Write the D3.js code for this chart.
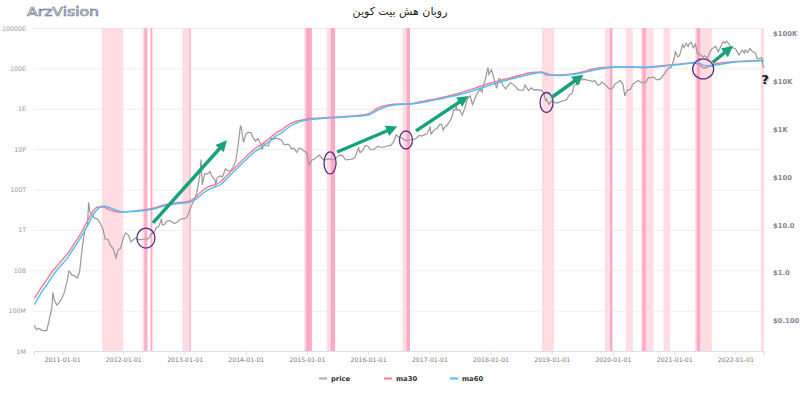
<!DOCTYPE html>
<html>
<head>
<meta charset="utf-8">
<script src="https://cdn.jsdelivr.net/npm/d3@7/dist/d3.min.js"></script>
<style>
  body { margin: 0; background: #fff; }
  svg { display: block; font-family: "DejaVu Sans", "Noto Sans", sans-serif; }
</style>
</head>
<body>
<svg id="chart" width="800" height="394"></svg>
<script>
const chart_width = 800, chart_height = 394;
const plot = { left: 34, right: 764, top: 28, bottom: 351 };

// hash rate ticks (left) and price ticks (right)
const hash_ticks = [1e6, 1e8, 1e10, 1e12, 1e14, 1e16, 1e18, 1e20, 1e22];
const hash_tick_labels = ["1M", "100M", "10B", "1T", "100T", "10P", "1E", "100E", "10000E"];
const price_ticks = [0.1, 1, 10, 100, 1000, 10000, 100000];
const price_tick_labels = ["$0.100", "$1.0", "$10.0", "$100", "$1K", "$10K", "$100K"];
const year_ticks = ["2011-01-01", "2012-01-01", "2013-01-01", "2014-01-01", "2015-01-01", "2016-01-01",
    "2017-01-01", "2018-01-01", "2019-01-01", "2020-01-01", "2021-01-01", "2022-01-01"];

// hash rate moving averages (H/s)
const hash_dates = ["2010-07-20", "2010-08-01", "2010-09-01", "2010-10-01", "2010-11-01", "2010-12-01",
    "2011-01-01", "2011-02-01", "2011-03-01", "2011-04-01", "2011-05-01", "2011-06-01", "2011-07-01",
    "2011-08-01", "2011-09-01", "2011-10-01", "2011-11-01", "2011-12-01", "2012-01-01", "2012-03-01",
    "2012-05-01", "2012-07-01", "2012-09-01", "2012-11-01", "2013-01-01", "2013-02-01", "2013-03-01",
    "2013-04-01", "2013-05-01", "2013-06-01", "2013-07-01", "2013-08-01", "2013-09-01", "2013-10-01",
    "2013-11-01", "2013-12-01", "2014-01-01", "2014-02-01", "2014-03-01", "2014-04-01", "2014-05-01",
    "2014-06-01", "2014-07-01", "2014-08-01", "2014-09-01", "2014-10-01", "2014-11-01", "2014-12-01",
    "2015-01-01", "2015-04-01", "2015-07-01", "2015-10-01", "2016-01-01", "2016-03-01", "2016-05-01",
    "2016-07-01", "2016-09-01", "2016-11-01", "2017-01-01", "2017-04-01", "2017-07-01", "2017-10-01",
    "2018-01-01", "2018-04-01", "2018-07-01", "2018-09-01", "2018-11-01", "2018-12-01", "2019-01-01",
    "2019-03-01", "2019-05-01", "2019-07-01", "2019-09-01", "2019-11-01", "2020-01-01", "2020-03-01",
    "2020-05-01", "2020-07-01", "2020-09-01", "2020-11-01", "2021-01-01", "2021-03-01", "2021-05-01",
    "2021-06-01", "2021-07-01", "2021-08-01", "2021-09-01", "2021-11-01", "2022-01-01", "2022-03-01",
    "2022-05-01", "2022-06-20"];
const ma30 = [4.0e8, 5.9e8, 1.5e9, 3.3e9, 8.2e9, 1.6e10,
    3.2e10, 6.4e10, 1.4e11, 3.5e11, 8.8e11, 2.75e12, 7.7e12,
    1.36e13, 1.36e13, 1.08e13, 8.6e12, 7.7e12, 7.7e12, 8.6e12,
    9.6e12, 1.21e13, 1.7e13, 2.14e13, 2.4e13, 2.7e13, 3.8e13,
    6.7e13, 1.06e14, 1.49e14, 1.67e14, 2.35e14, 4.15e14, 7.3e14,
    1.3e15, 2.3e15, 4.1e15, 7.2e15, 1.13e16, 1.6e16, 2.5e16,
    4.0e16, 6.3e16, 8.8e16, 1.39e17, 1.96e17, 2.47e17, 2.76e17,
    3.1e17, 3.47e17, 3.89e17, 4.36e17, 5.5e17, 1.09e18, 1.53e18,
    1.71e18, 1.71e18, 2.15e18, 2.7e18, 3.8e18, 6.0e18, 1.06e19,
    1.88e19, 2.96e19, 4.68e19, 6.2e19, 6.6e19, 4.7e19, 4.7e19,
    4.7e19, 5.25e19, 6.6e19, 9.3e19, 1.10e20, 1.16e20, 1.16e20,
    1.16e20, 1.10e20, 1.23e20, 1.38e20, 1.55e20, 1.74e20, 1.95e20,
    1.46e20, 1.04e20, 1.31e20, 1.64e20, 1.95e20, 2.18e20, 2.31e20,
    2.44e20, 2.44e20];
const ma60 = [2.0e8, 3.0e8, 8.4e8, 1.86e9, 4.6e9, 1.03e10,
    2.0e10, 4.0e10, 9.0e10, 2.2e11, 5.6e11, 1.55e12, 4.9e12,
    1.08e13, 1.52e13, 1.36e13, 1.08e13, 8.6e12, 7.7e12, 8.2e12,
    9.1e12, 1.08e13, 1.52e13, 1.9e13, 2.14e13, 2.4e13, 3.0e13,
    4.75e13, 7.5e13, 1.06e14, 1.33e14, 1.67e14, 2.94e14, 5.2e14,
    9.2e14, 1.63e15, 2.9e15, 5.1e15, 8.1e15, 1.13e16, 1.79e16,
    2.8e16, 4.5e16, 6.3e16, 9.9e16, 1.48e17, 1.96e17, 2.47e17,
    2.76e17, 3.28e17, 3.67e17, 4.12e17, 4.89e17, 8.6e17, 1.36e18,
    1.62e18, 1.71e18, 1.92e18, 2.41e18, 3.4e18, 5.06e18, 8.45e18,
    1.5e19, 2.5e19, 3.94e19, 5.25e19, 6.2e19, 5.56e19, 4.68e19,
    4.42e19, 4.95e19, 5.9e19, 7.8e19, 9.8e19, 1.13e20, 1.16e20,
    1.16e20, 1.13e20, 1.16e20, 1.31e20, 1.46e20, 1.64e20, 1.84e20,
    1.74e20, 1.38e20, 1.31e20, 1.46e20, 1.74e20, 2.06e20, 2.18e20,
    2.31e20, 2.44e20];

// bitcoin price (USD)
const price_dates = ["2010-07-18", "2010-08-01", "2010-08-15", "2010-09-01", "2010-09-15", "2010-10-01",
    "2010-10-15", "2010-11-01", "2010-11-07", "2010-11-15", "2010-12-01", "2010-12-15", "2011-01-01",
    "2011-01-15", "2011-02-01", "2011-02-10", "2011-02-15", "2011-03-01", "2011-03-15", "2011-04-01",
    "2011-04-15", "2011-05-01", "2011-05-15", "2011-06-01", "2011-06-08", "2011-06-15", "2011-07-01",
    "2011-07-15", "2011-08-01", "2011-08-15", "2011-09-01", "2011-09-15", "2011-10-01", "2011-10-15",
    "2011-11-01", "2011-11-18", "2011-12-01", "2011-12-15", "2012-01-01", "2012-01-15", "2012-02-01",
    "2012-02-15", "2012-03-01", "2012-03-15", "2012-04-01", "2012-04-15", "2012-05-01", "2012-05-15",
    "2012-06-01", "2012-06-15", "2012-07-01", "2012-07-15", "2012-08-01", "2012-08-16", "2012-08-20",
    "2012-09-01", "2012-09-15", "2012-10-01", "2012-10-15", "2012-11-01", "2012-11-15", "2012-12-01",
    "2012-12-15", "2013-01-01", "2013-01-15", "2013-02-01", "2013-02-15", "2013-03-01", "2013-03-15",
    "2013-04-01", "2013-04-09", "2013-04-16", "2013-05-01", "2013-05-15", "2013-06-01", "2013-06-15",
    "2013-07-01", "2013-07-05", "2013-07-15", "2013-08-01", "2013-08-15", "2013-09-01", "2013-09-15",
    "2013-10-01", "2013-10-15", "2013-11-01", "2013-11-15", "2013-11-30", "2013-12-05", "2013-12-18",
    "2014-01-01", "2014-01-15", "2014-02-01", "2014-02-15", "2014-03-01", "2014-03-15", "2014-04-01",
    "2014-04-10", "2014-04-15", "2014-05-01", "2014-05-15", "2014-06-01", "2014-06-15", "2014-07-01",
    "2014-07-15", "2014-08-01", "2014-08-18", "2014-09-01", "2014-09-15", "2014-10-01", "2014-10-15",
    "2014-11-01", "2014-11-15", "2014-12-01", "2014-12-15", "2015-01-01", "2015-01-14", "2015-02-01",
    "2015-02-15", "2015-03-01", "2015-03-15", "2015-04-01", "2015-04-15", "2015-05-01", "2015-05-15",
    "2015-06-01", "2015-06-15", "2015-07-01", "2015-07-15", "2015-08-01", "2015-08-19", "2015-09-01",
    "2015-09-15", "2015-10-01", "2015-10-15", "2015-11-04", "2015-11-15", "2015-12-01", "2015-12-15",
    "2016-01-01", "2016-01-15", "2016-02-01", "2016-02-15", "2016-03-01", "2016-03-15", "2016-04-01",
    "2016-04-15", "2016-05-01", "2016-05-15", "2016-06-01", "2016-06-17", "2016-07-01", "2016-07-15",
    "2016-08-01", "2016-08-15", "2016-09-01", "2016-09-15", "2016-10-01", "2016-10-15", "2016-11-01",
    "2016-11-15", "2016-12-01", "2016-12-15", "2017-01-01", "2017-01-05", "2017-01-11", "2017-02-01",
    "2017-02-15", "2017-03-01", "2017-03-15", "2017-03-24", "2017-04-01", "2017-04-15", "2017-05-01",
    "2017-05-15", "2017-05-25", "2017-06-01", "2017-06-12", "2017-06-15", "2017-07-01", "2017-07-16",
    "2017-08-01", "2017-08-15", "2017-09-01", "2017-09-15", "2017-10-01", "2017-10-15", "2017-11-01",
    "2017-11-12", "2017-11-15", "2017-12-01", "2017-12-17", "2017-12-22", "2018-01-06", "2018-01-15",
    "2018-02-06", "2018-02-20", "2018-03-01", "2018-03-15", "2018-04-01", "2018-04-15", "2018-05-01",
    "2018-05-15", "2018-06-01", "2018-06-15", "2018-07-01", "2018-07-15", "2018-07-25", "2018-08-01",
    "2018-08-15", "2018-09-01", "2018-09-15", "2018-10-01", "2018-10-15", "2018-11-01", "2018-11-15",
    "2018-11-25", "2018-12-01", "2018-12-15", "2019-01-01", "2019-01-15", "2019-02-01", "2019-02-15",
    "2019-03-01", "2019-03-15", "2019-04-01", "2019-04-15", "2019-05-01", "2019-05-15", "2019-06-01",
    "2019-06-15", "2019-06-26", "2019-07-01", "2019-07-15", "2019-08-01", "2019-08-15", "2019-09-01",
    "2019-09-15", "2019-10-01", "2019-10-15", "2019-10-26", "2019-11-01", "2019-11-15", "2019-12-01",
    "2019-12-17", "2020-01-01", "2020-01-15", "2020-02-01", "2020-02-13", "2020-03-01", "2020-03-12",
    "2020-03-15", "2020-04-01", "2020-04-15", "2020-05-01", "2020-05-15", "2020-06-01", "2020-06-15",
    "2020-07-01", "2020-07-15", "2020-08-01", "2020-08-15", "2020-09-01", "2020-09-15", "2020-10-01",
    "2020-10-15", "2020-11-01", "2020-11-15", "2020-12-01", "2020-12-15", "2021-01-01", "2021-01-08",
    "2021-01-22", "2021-02-01", "2021-02-15", "2021-02-21", "2021-03-01", "2021-03-13", "2021-03-25",
    "2021-04-01", "2021-04-14", "2021-04-25", "2021-05-08", "2021-05-19", "2021-06-01", "2021-06-22",
    "2021-07-01", "2021-07-20", "2021-08-01", "2021-08-15", "2021-09-06", "2021-09-21", "2021-10-01",
    "2021-10-20", "2021-11-01", "2021-11-09", "2021-11-25", "2021-12-04", "2021-12-15", "2022-01-01",
    "2022-01-22", "2022-02-01", "2022-02-10", "2022-02-24", "2022-03-01", "2022-03-15", "2022-03-29",
    "2022-04-15", "2022-05-01", "2022-05-12", "2022-05-20", "2022-06-01", "2022-06-10", "2022-06-13",
    "2022-06-18", "2022-06-20"];
const price = [0.08, 0.065, 0.07, 0.063, 0.062, 0.062,
    0.10, 0.19, 0.39, 0.27, 0.21, 0.24, 0.30,
    0.40, 0.70, 1.08, 1.05, 0.89, 0.87, 0.78,
    1.05, 3.3, 7.5, 9.6, 29.6, 19, 15.4,
    13.8, 13.1, 11, 8.2, 5.0, 5.0, 3.8,
    3.2, 2.05, 3.0, 3.2, 5.3, 6.8, 6.1,
    4.4, 4.9, 5.3, 4.9, 4.9, 5.0, 5.0,
    5.2, 6.5, 6.7, 8.7, 9.4, 13.5, 10,
    10.1, 11.7, 12.4, 11.7, 10.6, 11.2, 12.6,
    13.5, 13.4, 14.3, 20.4, 27, 34.5, 47,
    104, 230, 68, 116, 114, 129, 100,
    88, 68, 98, 105, 100, 146, 134,
    133, 155, 205, 420, 1150, 1100, 520,
    770, 860, 830, 640, 560, 630, 470,
    370, 520, 450, 445, 640, 610, 640,
    620, 590, 470, 475, 475, 380, 395,
    325, 400, 380, 347, 315, 178, 225,
    235, 260, 285, 245, 220, 235, 237,
    225, 235, 258, 285, 280, 225, 228,
    230, 237, 255, 400, 320, 360, 450,
    430, 375, 370, 400, 435, 415, 417,
    430, 450, 455, 535, 750, 675, 665,
    605, 570, 575, 608, 615, 640, 730,
    710, 750, 780, 1000, 1130, 780, 985,
    1010, 1220, 1250, 940, 1080, 1180, 1420,
    1750, 2500, 2450, 2950, 2450, 2500, 1930,
    2750, 4200, 4900, 3200, 4400, 5700, 6700,
    5900, 7300, 10900, 19300, 13800, 17100, 13600,
    7000, 11200, 10900, 8250, 6800, 8000, 9200,
    8500, 7500, 6500, 6400, 6350, 8200, 7600,
    6300, 7200, 6500, 6600, 6500, 6350, 5600,
    3900, 4200, 3250, 3850, 3600, 3450, 3600,
    3800, 3900, 4100, 5100, 5400, 8200, 8550,
    8800, 12900, 10600, 10800, 10400, 10300, 9750,
    10300, 8300, 8300, 9500, 9200, 8500, 7400,
    6650, 7200, 8800, 9400, 10300, 8600, 4900,
    5400, 6600, 6650, 8800, 9300, 10200, 9450,
    9100, 9200, 11800, 11800, 12000, 10800, 10600,
    11500, 13800, 16000, 18800, 19300, 29400, 40700,
    32000, 33500, 48700, 57500, 49600, 61200, 52300,
    59000, 63500, 49000, 58800, 37000, 36700, 31600,
    33500, 29800, 39900, 47000, 52600, 40600, 48200,
    65900, 61300, 67500, 58900, 49000, 48800, 47700,
    35100, 38700, 43500, 38300, 44300, 39300, 47400,
    40500, 38400, 29000, 29200, 29900, 30100, 22500,
    19000, 20600];

// capitulation periods (ma30 below ma60) and their deeper parts
const band_starts = ["2011-08-27", "2012-04-24", "2012-06-08", "2012-12-18", "2014-12-16", "2015-04-29",
    "2016-07-24", "2018-11-03", "2019-11-14", "2020-03-18", "2020-06-17", "2020-10-29", "2021-05-06", "2022-06-02"];
const band_ends = ["2012-01-01", "2012-05-27", "2012-06-28", "2013-02-06", "2015-01-30", "2015-06-18",
    "2016-09-07", "2019-01-15", "2019-12-29", "2020-04-29", "2020-08-30", "2020-12-08", "2021-08-14", "2022-06-21"];
const deep_starts = ["2012-05-06", "2012-06-14", "2013-01-30", "2014-12-26", "2015-05-23", "2016-08-18",
    "2019-12-15", "2020-06-25", "2021-05-16"];
const deep_ends = ["2012-05-21", "2012-06-20", "2013-02-06", "2015-01-30", "2015-06-18", "2016-09-07",
    "2019-12-29", "2020-07-15", "2021-06-05"];

// hand-drawn notes: buy signals (ellipses) and the rally after each (arrows)
const circle_dates = ["2012-05-15", "2015-05-19", "2016-08-14", "2018-12-01", "2021-06-23"];
const circle_prices = [5.3, 195, 588, 3560, 17800];
const circle_rx = [9, 6, 6.5, 6.5, 10.5];
const circle_ry = [10, 11, 9, 10, 10];
const arrow_from_dates = ["2012-06-26", "2015-06-30", "2016-10-13", "2018-12-31", "2021-08-18"];
const arrow_from_prices = [11, 330, 910, 4530, 24300];
const arrow_to_dates = ["2013-08-06", "2016-05-05", "2017-07-09", "2019-05-26", "2021-11-07"];
const arrow_to_prices = [420, 950, 3830, 10500, 41200];

const parse = d3.timeParse("%Y-%m-%d");

const svg = d3.select("#chart");

let x_scale = d3.scaleTime()
    .domain([parse("2010-07-17"), parse("2022-06-21")])
    .range([plot.left, plot.right]);
let y_hash = d3.scaleLog()
    .domain([1e6, 1e22])
    .range([plot.bottom, plot.top]);
let y_price = d3.scaleLog()
    .domain([0.02335, 127300])
    .range([plot.bottom, plot.top]);

// logo and title
svg.append("text")
    .attr("x", 27).attr("y", 15.5)
    .attr("font-size", 11.5)
    .attr("textLength", 72)
    .attr("lengthAdjust", "spacingAndGlyphs")
    .attr("fill", "#fff")
    .attr("stroke", "#6a7390")
    .attr("stroke-width", 0.6)
    .text("ArzVision");
svg.append("text")
    .attr("x", 400).attr("y", 15)
    .attr("text-anchor", "middle")
    .attr("font-size", 11)
    .attr("fill", "#222")
    .text("روبان هش بیت کوین");

// grid + left axis
let y_axis_left = d3.axisLeft(y_hash)
    .tickValues(hash_ticks)
    .tickFormat((d, i) => hash_tick_labels[i])
    .tickSize(-(plot.right - plot.left))
    .tickPadding(8);
svg.append("g")
    .attr("transform", `translate(${plot.left},0)`)
    .call(y_axis_left)
    .call(g => g.select(".domain").remove())
    .call(g => g.selectAll(".tick line").attr("stroke", "#eeeeee"))
    .call(g => g.selectAll(".tick text").attr("fill", "#999").attr("font-size", 6.3)
        .attr("font-family", "DejaVu Sans"));

// right axis
let y_axis_right = d3.axisRight(y_price)
    .tickValues(price_ticks)
    .tickFormat((d, i) => price_tick_labels[i])
    .tickSize(0)
    .tickPadding(9);
svg.append("g")
    .attr("transform", `translate(${plot.right},0)`)
    .call(y_axis_right)
    .call(g => g.select(".domain").remove())
    .call(g => g.selectAll(".tick text").attr("fill", "#858597").attr("font-size", 6.8)
        .attr("font-weight", "bold").attr("font-family", "DejaVu Sans"));

// bottom axis
let x_axis = d3.axisBottom(x_scale)
    .tickValues(year_ticks.map(parse))
    .tickFormat(d3.timeFormat("%Y-%m-%d"))
    .tickSize(4)
    .tickPadding(3);
let x_axis_group = svg.append("g")
    .attr("transform", `translate(0,${plot.bottom})`)
    .call(x_axis);
x_axis_group.select(".domain").attr("stroke", "#d9dfee").attr("stroke-width", 1.2);
x_axis_group.selectAll(".tick line").attr("stroke", "#d9dfee");
x_axis_group.selectAll(".tick text").attr("fill", "#777").attr("font-size", 6.2)
    .attr("font-family", "DejaVu Sans");

// capitulation bands
svg.append("g")
    .selectAll("rect")
    .data(band_starts.map((s, i) => [parse(s), parse(band_ends[i])]))
    .join("rect")
    .attr("x", d => x_scale(d[0]))
    .attr("width", d => Math.max(1, x_scale(d[1]) - x_scale(d[0])))
    .attr("y", plot.top)
    .attr("height", plot.bottom - plot.top)
    .attr("fill", "#ffdde3");
svg.append("g")
    .selectAll("rect")
    .data(deep_starts.map((s, i) => [parse(s), parse(deep_ends[i])]))
    .join("rect")
    .attr("x", d => x_scale(d[0]))
    .attr("width", d => Math.max(1, x_scale(d[1]) - x_scale(d[0])))
    .attr("y", plot.top)
    .attr("height", plot.bottom - plot.top)
    .attr("fill", "#ffa9c6");

// lines
let hash_rows = hash_dates.map((d, i) => ({ date: parse(d), ma30: ma30[i], ma60: ma60[i] }));
let price_rows = price_dates.map((d, i) => ({ date: parse(d), price: price[i] }));

svg.append("path")
    .datum(price_rows)
    .attr("fill", "none")
    .attr("stroke", "#999999")
    .attr("stroke-width", 1.2)
    .attr("d", d3.line().x(d => x_scale(d.date)).y(d => y_price(d.price)));

svg.append("path")
    .datum(hash_rows)
    .attr("fill", "none")
    .attr("stroke", "#ff7890")
    .attr("stroke-width", 1.4)
    .attr("d", d3.line().curve(d3.curveMonotoneX).x(d => x_scale(d.date)).y(d => y_hash(d.ma30)));

svg.append("path")
    .datum(hash_rows)
    .attr("fill", "none")
    .attr("stroke", "#4dbff5")
    .attr("stroke-width", 1.4)
    .attr("d", d3.line().curve(d3.curveMonotoneX).x(d => x_scale(d.date)).y(d => y_hash(d.ma60)));

// annotations
let notes = svg.append("g");
notes.selectAll("ellipse")
    .data(circle_dates)
    .join("ellipse")
    .attr("cx", d => x_scale(parse(d)))
    .attr("cy", (d, i) => y_price(circle_prices[i]))
    .attr("rx", (d, i) => circle_rx[i])
    .attr("ry", (d, i) => circle_ry[i])
    .attr("fill", "none")
    .attr("stroke", "#5a2b86")
    .attr("stroke-width", 1.3);

svg.append("defs").append("marker")
    .attr("id", "head")
    .attr("viewBox", "0 0 10 10")
    .attr("refX", 2).attr("refY", 5)
    .attr("markerWidth", 3.2).attr("markerHeight", 3.2)
    .attr("orient", "auto")
    .append("path")
    .attr("d", "M0,0 L10,5 L0,10 z")
    .attr("fill", "#17a27d");

notes.selectAll("line.arrow")
    .data(arrow_from_dates)
    .join("line")
    .attr("class", "arrow")
    .attr("x1", d => x_scale(parse(d)))
    .attr("y1", (d, i) => y_price(arrow_from_prices[i]))
    .attr("x2", (d, i) => x_scale(parse(arrow_to_dates[i])))
    .attr("y2", (d, i) => y_price(arrow_to_prices[i]))
    .attr("stroke", "#17a27d")
    .attr("stroke-width", 3.5)
    .attr("marker-end", "url(#head)");

// question mark at the latest point, with a soft shadow
const question_x = x_scale(parse("2022-06-21")) + 1;
const question_y = y_price(11000);
[["#c8c8c8", 1.2], ["#111", 0]].forEach(([fill, off]) => {
    notes.append("text")
        .attr("x", question_x + off)
        .attr("y", question_y + off)
        .attr("dy", "0.35em")
        .attr("text-anchor", "middle")
        .attr("font-size", 13)
        .attr("font-weight", "bold")
        .attr("fill", fill)
        .text("?");
});

// legend
const legend_items = ["price", "ma30", "ma60"];
const legend_colors = ["#aaaaaa", "#ff7890", "#4dbff5"];
const legend_x = [319, 384, 450];
let legend = svg.append("g");
legend_items.forEach((name, i) => {
    legend.append("line")
        .attr("x1", legend_x[i]).attr("x2", legend_x[i] + 8)
        .attr("y1", 378.5).attr("y2", 378.5)
        .attr("stroke", legend_colors[i])
        .attr("stroke-width", 2);
    legend.append("text")
        .attr("x", legend_x[i] + 12).attr("y", 381)
        .attr("font-size", 6.8)
        .attr("font-weight", "bold")
        .attr("fill", "#333")
        .text(name);
});
</script>
</body>
</html>
